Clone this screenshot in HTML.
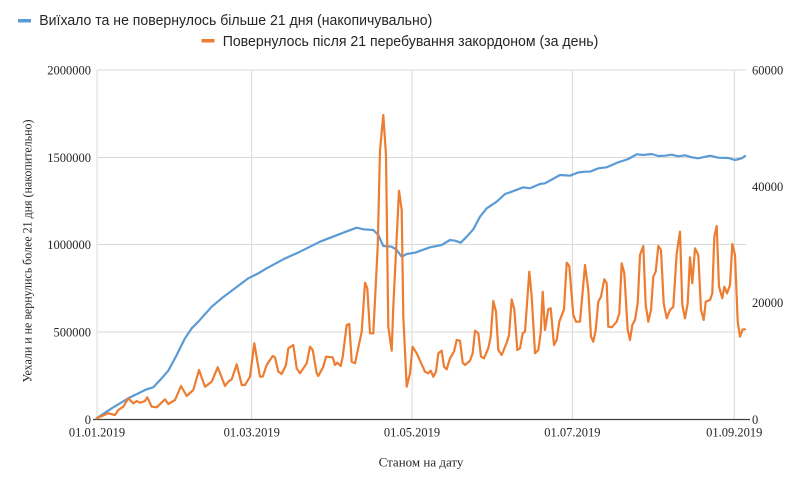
<!DOCTYPE html>
<html>
<head>
<meta charset="utf-8">
<style>
  html, body { margin: 0; padding: 0; background: #ffffff; }
  body { width: 800px; height: 479px; overflow: hidden; }
  svg { display: block; }
  .leg { font-family: "Liberation Sans", "DejaVu Sans", sans-serif; font-size: 14.5px; fill: #262626; }
  .ax { font-family: "Liberation Serif", "DejaVu Serif", serif; font-size: 12.5px; fill: #262626; }
  .ttl { font-family: "Liberation Serif", "DejaVu Serif", serif; font-size: 13px; fill: #262626; }
</style>
</head>
<body>
<svg width="800" height="479" viewBox="0 0 800 479" xmlns="http://www.w3.org/2000/svg">
  <rect x="0" y="0" width="800" height="479" fill="#ffffff"/>

  <!-- Legend -->
  <rect x="18" y="19" width="13" height="3.5" fill="#5b9bd5"/>
  <text class="leg" x="39.3" y="24.8" textLength="393" lengthAdjust="spacingAndGlyphs">Виїхало та не повернулось більше 21 дня (накопичувально)</text>
  <rect x="201.5" y="39" width="13" height="3.5" fill="#ed7d31"/>
  <text class="leg" x="222.7" y="45.8" textLength="375.6" lengthAdjust="spacingAndGlyphs">Повернулось після 21 перебування закордоном (за день)</text>

  <!-- Horizontal gridlines -->
  <g stroke="#d9d9d9" stroke-width="1">
    <line x1="97" y1="70" x2="746" y2="70"/>
    <line x1="97" y1="157.5" x2="746" y2="157.5"/>
    <line x1="97" y1="244.5" x2="746" y2="244.5"/>
    <line x1="97" y1="332" x2="746" y2="332"/>
    <!-- Vertical gridlines -->
    <line x1="97" y1="70" x2="97" y2="419.5"/>
    <line x1="251.7" y1="70" x2="251.7" y2="419.5"/>
    <line x1="412" y1="70" x2="412" y2="419.5"/>
    <line x1="572.4" y1="70" x2="572.4" y2="419.5"/>
    <line x1="734.3" y1="70" x2="734.3" y2="419.5"/>
  </g>
  <!-- Bottom axis -->
  <line x1="93" y1="419.5" x2="750" y2="419.5" stroke="#404040" stroke-width="1.3"/>

  <!-- Left axis labels -->
  <g class="ax" text-anchor="end">
    <text x="91" y="74.5">2000000</text>
    <text x="91" y="162">1500000</text>
    <text x="91" y="249">1000000</text>
    <text x="91" y="336.5">500000</text>
    <text x="91" y="424">0</text>
  </g>
  <!-- Right axis labels -->
  <g class="ax" text-anchor="start">
    <text x="752" y="74.5">60000</text>
    <text x="752" y="191">40000</text>
    <text x="752" y="307">20000</text>
    <text x="752" y="424">0</text>
  </g>
  <!-- X axis labels -->
  <g class="ax" text-anchor="middle">
    <text x="97" y="436.5">01.01.2019</text>
    <text x="251.7" y="436.5">01.03.2019</text>
    <text x="412" y="436.5">01.05.2019</text>
    <text x="572.4" y="436.5">01.07.2019</text>
    <text x="734.3" y="436.5">01.09.2019</text>
  </g>
  <!-- Axis titles -->
  <text class="ttl" x="421" y="466.5" text-anchor="middle">Станом на дату</text>
  <text class="ttl" transform="translate(31.5,251) rotate(-90)" text-anchor="middle" textLength="263" lengthAdjust="spacingAndGlyphs">Уехали и не вернулись более 21 дня (накопительно)</text>

  <!-- Blue series -->
  <polyline fill="none" stroke="#5b9bd5" stroke-width="2.2" stroke-linejoin="round" stroke-linecap="round" points="
96.7,418.3 111.7,408.3 128.3,398.3 146.7,389.3 153.3,387.3 161.7,378.3 168.3,370.7 176.7,355 185,338.3 191.7,328.3 198.3,321.7 211.7,306.7 221.7,298.3 235,288.3 248.3,278.3 258,273.5 266.7,268.3 283.3,259.3 300,251.7 320,241.7 343.3,232.7 356.7,227.7 363.3,229.3 373.3,230 378.3,235 383.3,246 391.7,246.7 396.7,250 401.7,256.7 406.7,254 415,252.7 430,247.3 441.7,245 450,240 455,240.7 460.7,242.7 466.7,236.7 473.3,229.3 480,216.7 486.7,208.3 496.7,201.7 505,194 510,192.3 523.3,187.3 530,188.3 540,184 545,183.3 560,175 570,175.7 578,172.5 585,171.7 590,171.7 598.3,168.3 606.7,167.3 618.3,162.3 628.3,159 636.7,154.3 643.3,155 651.7,154 658.3,156 665,155.7 671.7,154.7 678.3,156.3 685,155.3 691.7,157.3 698.3,158.3 710,155.7 718.3,157.7 728.3,158 735,160 741.7,158.3 745,156"/>

  <!-- Orange series -->
  <polyline fill="none" stroke="#ed7d31" stroke-width="2.2" stroke-linejoin="round" stroke-linecap="round" points="
96.7,418.3 108.3,413.3 115,415 118.3,410 123.3,406.7 128.3,398.3 133.3,403.3 136.7,401 140,402.7 145,401 147.3,397.3 151.7,406.7 156.7,407.3 165,399.3 168.3,404 175,400 181,386 186.7,396 193.3,390 199,370 205,386.7 211.7,381.7 217.7,367.3 225,386 228.3,381.7 231.7,379.3 236.7,364.3 241.7,385 245,385 250,376.7 254.3,343.3 260,376.7 262.7,376.7 266.7,365 272.7,356 275,357.3 278.3,371.7 281.7,374 286,365 288.3,348.3 293.3,345 296.7,368.3 300,373.3 306.7,363.3 310,346.7 312.7,350 316.7,373.3 318.3,376 323.3,366.7 326,356.7 332.7,357.3 335,365 337.3,362.7 340.7,366 342.7,356.7 346.7,325 349.3,324 351.7,361.7 355,363.3 361.7,331.7 365,282.7 367.3,288.3 370,333.3 373.3,333.3 377.7,246.7 380,150 383.3,115 386,155 388.3,326.7 391.7,350.7 393.3,306.7 399,190.7 401.7,210 403.3,316.7 406.7,386.7 410,373.3 412.5,346.7 416.7,353.3 425,371.7 428.3,373.3 430.7,370.7 433.3,376.7 436,371.7 438.3,353.3 441.7,350.7 444,366.7 446.7,369.3 450,358.3 454,351.7 456.7,340 460,340.7 462.7,362.7 465,365 470,360.7 472.7,353.3 475,330.7 478.3,333.3 481,356.7 484,358.3 488.3,348.3 490.7,336.7 493.3,301 496,311.7 498.3,350 501.7,355 506.7,342.7 509,335 511.7,299.3 514.3,309.3 517.3,350 520,348.3 522.7,333.3 525,331.7 529.3,271.7 531.7,296.7 535,353.3 538.3,350 540.7,332.7 542.7,291.7 545,330 548.3,309.3 550.7,308.3 554,345 556.7,340 559.3,321.7 564,309.3 566.7,262.7 569.3,266 573.3,315 576,321.7 580,321.7 585,265 588.3,290 591,336.7 593.3,341.7 595.7,330 598.3,301.7 601,296.7 604.3,279.3 606.7,283.3 608.3,326.7 611.7,327.3 616.7,321.7 619.3,313.3 621.7,263.3 624.3,273.3 627.7,330 630,340 632.3,325 635,320 637.7,303.3 640,255 643.3,246 645.7,305 648.3,321.7 651,310 653.3,276.7 655.7,271.7 658.3,246 661,250 663.7,303.3 666.7,318.3 670,310 673.3,306.7 676.7,253.3 680,231.7 682.3,305 685,318.3 687.7,303.3 690,257.3 692.3,283.3 695,248.3 698.3,255 701,310 703.7,320 705.7,301.7 710,300 712.3,293.3 714.3,236.7 716.7,226 719,286.7 722.3,298.3 724.3,286.7 727,293.3 730,285 732.3,244 735,255 737.7,321.7 740,336.7 742.7,329.3 745,329.3"/>
</svg>
</body>
</html>
